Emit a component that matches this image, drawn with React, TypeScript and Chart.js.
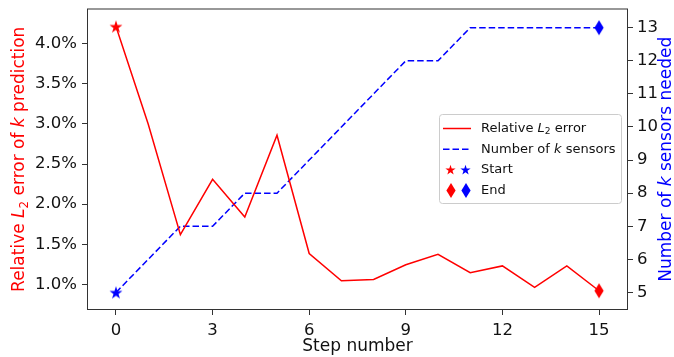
import { useEffect, useRef } from 'react';
import { Chart, registerables } from 'chart.js';

Chart.register(...registerables);

// Optimisation history: relative L2 error of the k field and sensors used per step
const steps = [0, 1, 2, 3, 4, 5, 6, 7, 8, 9, 10, 11, 12, 13, 14, 15];
const relErrorPct = [4.215, 3.0, 1.62, 2.31, 1.84, 2.86, 1.385, 1.045, 1.06, 1.245, 1.375, 1.145, 1.23, 0.963, 1.23, 0.92];
const sensorCount = [5, 6, 7, 7, 8, 8, 9, 10, 11, 12, 12, 13, 13, 13, 13, 13];

const stepTicks = [0, 3, 6, 9, 12, 15];
const errorTicks = [1.0, 1.5, 2.0, 2.5, 3.0, 3.5, 4.0];
const sensorTicks = [5, 6, 7, 8, 9, 10, 11, 12, 13];

const RED = '#ff0000';
const BLUE = '#0000ff';
const FAMILY = "'DejaVu Sans', sans-serif";
const TICK_SIZE = 16.5;
const TITLE_SIZE = 17;

type Seg = { t: string; italic?: boolean; sub?: boolean };

const errorTitle: Seg[] = [
  { t: 'Relative ' }, { t: 'L', italic: true }, { t: '2', sub: true },
  { t: ' error of ' }, { t: 'k', italic: true }, { t: ' prediction' },
];
const sensorTitle: Seg[] = [{ t: 'Number of ' }, { t: 'k', italic: true }, { t: ' sensors needed' }];
const stepTitle: Seg[] = [{ t: 'Step number' }];

const legendErr: Seg[] = [{ t: 'Relative ' }, { t: 'L', italic: true }, { t: '2', sub: true }, { t: ' error' }];
const legendCnt: Seg[] = [{ t: 'Number of ' }, { t: 'k', italic: true }, { t: ' sensors' }];

function segFont(s: Seg, size: number) {
  const sz = s.sub ? size * 0.7 : size;
  return `${s.italic ? 'italic ' : ''}${sz}px ${FAMILY}`;
}

function drawRich(ctx: CanvasRenderingContext2D, segs: Seg[], x: number, y: number, size: number, color: string, align: 'left' | 'center') {
  ctx.save();
  ctx.fillStyle = color;
  ctx.textBaseline = 'middle';
  ctx.textAlign = 'left';
  let total = 0;
  for (const s of segs) {
    ctx.font = segFont(s, size);
    total += ctx.measureText(s.t).width;
  }
  let cx = align === 'center' ? x - total / 2 : x;
  for (const s of segs) {
    ctx.font = segFont(s, size);
    ctx.fillText(s.t, cx, s.sub ? y + size * 0.28 : y);
    cx += ctx.measureText(s.t).width;
  }
  ctx.restore();
}

function makeStar(color: string, outer: number) {
  const c = document.createElement('canvas');
  const d = Math.ceil(outer * 2 + 2);
  c.width = d;
  c.height = d;
  const g = c.getContext('2d')!;
  const inner = outer * 0.382;
  g.beginPath();
  for (let i = 0; i < 10; i++) {
    const r = i % 2 === 0 ? outer : inner;
    const a = -Math.PI / 2 + (i * Math.PI) / 5;
    const px = d / 2 + r * Math.cos(a);
    const py = d / 2 + 0.6 + r * Math.sin(a);
    if (i === 0) g.moveTo(px, py);
    else g.lineTo(px, py);
  }
  g.closePath();
  g.fillStyle = color;
  g.fill();
  return c;
}

function makeDiamond(color: string, hw: number, hh: number) {
  const c = document.createElement('canvas');
  c.width = Math.ceil(hw * 2 + 2);
  c.height = Math.ceil(hh * 2 + 2);
  const g = c.getContext('2d')!;
  const cx = c.width / 2;
  const cy = c.height / 2;
  g.beginPath();
  g.moveTo(cx, cy - hh);
  g.lineTo(cx + hw, cy);
  g.lineTo(cx, cy + hh);
  g.lineTo(cx - hw, cy);
  g.closePath();
  g.fillStyle = color;
  g.fill();
  return c;
}

export default function App() {
  const ref = useRef<HTMLCanvasElement | null>(null);

  useEffect(() => {
    const canvas = ref.current;
    if (!canvas) return;

    const redStar = makeStar(RED, 6.8);
    const blueStar = makeStar(BLUE, 6.8);
    const redDiamond = makeDiamond(RED, 4.6, 7.4);
    const blueDiamond = makeDiamond(BLUE, 4.6, 7.4);
    const legStarR = makeStar(RED, 5.4);
    const legStarB = makeStar(BLUE, 5.4);

    const last = steps.length - 1;
    const endpointRadius = (ctx: any) => (ctx.dataIndex === 0 || ctx.dataIndex === last ? 7 : 0);

    const tickFont = { family: FAMILY, size: TICK_SIZE };
    const gridCommon = {
      drawOnChartArea: false,
      drawTicks: true,
      tickLength: 5,
      tickColor: '#333333',
      tickWidth: 1,
    };
    const noPadY = (s: any, w: number) => {
      s.width = w;
      s.paddingTop = 0;
      s.paddingBottom = 0;
    };

    const framePlugin = {
      id: 'frameAndText',
      afterDraw(chart: any) {
        const { ctx, chartArea } = chart;
        const { left, right, top, bottom } = chartArea;
        ctx.save();
        ctx.strokeStyle = '#333333';
        ctx.lineWidth = 1;
        ctx.strokeRect(left + 0.5, top + 0.5, right - left - 1, bottom - top - 1);
        ctx.restore();

        // axis titles
        drawRich(ctx, stepTitle, (left + right) / 2, 347, TITLE_SIZE, '#111111', 'center');
        ctx.save();
        ctx.translate(20, (top + bottom) / 2);
        ctx.rotate(-Math.PI / 2);
        drawRich(ctx, errorTitle, 0, 0, TITLE_SIZE, RED, 'center');
        ctx.restore();
        ctx.save();
        ctx.translate(667, (top + bottom) / 2);
        ctx.rotate(-Math.PI / 2);
        drawRich(ctx, sensorTitle, 0, 0, TITLE_SIZE, BLUE, 'center');
        ctx.restore();

        // legend
        const bx = 439.5, by = 114.5, bw = 182, bh = 89, rr = 3;
        ctx.save();
        ctx.beginPath();
        ctx.moveTo(bx + rr, by);
        ctx.lineTo(bx + bw - rr, by);
        ctx.quadraticCurveTo(bx + bw, by, bx + bw, by + rr);
        ctx.lineTo(bx + bw, by + bh - rr);
        ctx.quadraticCurveTo(bx + bw, by + bh, bx + bw - rr, by + bh);
        ctx.lineTo(bx + rr, by + bh);
        ctx.quadraticCurveTo(bx, by + bh, bx, by + bh - rr);
        ctx.lineTo(bx, by + rr);
        ctx.quadraticCurveTo(bx, by, bx + rr, by);
        ctx.closePath();
        ctx.fillStyle = 'rgba(255,255,255,0.8)';
        ctx.fill();
        ctx.strokeStyle = '#cccccc';
        ctx.lineWidth = 1;
        ctx.stroke();
        ctx.restore();

        const rows = [128.5, 149.3, 169.8, 190.2];
        const tx = 481;
        const lsize = 13;
        ctx.save();
        ctx.lineWidth = 1.5;
        ctx.strokeStyle = RED;
        ctx.beginPath();
        ctx.moveTo(443, rows[0]);
        ctx.lineTo(471, rows[0]);
        ctx.stroke();
        ctx.strokeStyle = BLUE;
        ctx.setLineDash([6.5, 3]);
        ctx.beginPath();
        ctx.moveTo(443, rows[1]);
        ctx.lineTo(471, rows[1]);
        ctx.stroke();
        ctx.restore();
        const place = (img: HTMLCanvasElement, x: number, y: number) =>
          ctx.drawImage(img, Math.round(x - img.width / 2), Math.round(y - img.height / 2));
        place(legStarR, 450, rows[2]);
        place(legStarB, 465, rows[2]);
        place(redDiamond, 450.5, rows[3]);
        place(blueDiamond, 465.5, rows[3]);

        drawRich(ctx, legendErr, tx, rows[0], lsize, '#111111', 'left');
        drawRich(ctx, legendCnt, tx, rows[1], lsize, '#111111', 'left');
        drawRich(ctx, [{ t: 'Start' }], tx, rows[2], lsize, '#111111', 'left');
        drawRich(ctx, [{ t: 'End' }], tx, rows[3], lsize, '#111111', 'left');
      },
    };

    const chart = new Chart(canvas, {
      type: 'line',
      data: {
        datasets: [
          {
            label: 'Relative L2 error',
            data: steps.map((s, i) => ({ x: s, y: relErrorPct[i] })),
            yAxisID: 'yErr',
            borderColor: RED,
            backgroundColor: RED,
            borderWidth: 1.5,
            fill: false,
            tension: 0,
            pointRadius: endpointRadius,
            pointHoverRadius: endpointRadius,
            pointStyle: (ctx: any) => (ctx.dataIndex === 0 ? redStar : redDiamond),
          },
          {
            label: 'Number of k sensors',
            data: steps.map((s, i) => ({ x: s, y: sensorCount[i] })),
            yAxisID: 'yCnt',
            borderColor: BLUE,
            backgroundColor: BLUE,
            borderWidth: 1.5,
            borderDash: [6.5, 3],
            fill: false,
            tension: 0,
            pointRadius: endpointRadius,
            pointHoverRadius: endpointRadius,
            pointStyle: (ctx: any) => (ctx.dataIndex === 0 ? blueStar : blueDiamond),
          },
        ],
      },
      options: {
        animation: false,
        responsive: false,
        devicePixelRatio: 1,
        layout: { padding: { top: 8, left: 0, right: 0, bottom: 0 } },
        plugins: { legend: { display: false }, tooltip: { enabled: false } },
        events: [],
        scales: {
          x: {
            type: 'linear',
            min: -0.9,
            max: 15.9,
            afterBuildTicks: (s: any) => {
              s.ticks = stepTicks.map((v) => ({ value: v }));
            },
            afterFit: (s: any) => {
              s.height = 47;
              s.paddingLeft = 0;
              s.paddingRight = 0;
            },
            grid: gridCommon,
            border: { display: false },
            ticks: { font: tickFont, color: '#111111', padding: 6, maxRotation: 0, autoSkip: false },
          },
          yErr: {
            type: 'linear',
            position: 'left',
            min: 0.68,
            max: 4.44,
            afterBuildTicks: (s: any) => {
              s.ticks = errorTicks.map((v) => ({ value: v }));
            },
            afterFit: (s: any) => noPadY(s, 87),
            grid: gridCommon,
            border: { display: false },
            ticks: {
              font: tickFont,
              color: '#111111',
              padding: 5,
              autoSkip: false,
              callback: (v: any) => `${Number(v).toFixed(1)}%`,
            },
          },
          yCnt: {
            type: 'linear',
            position: 'right',
            min: 4.47,
            max: 13.58,
            afterBuildTicks: (s: any) => {
              s.ticks = sensorTicks.map((v) => ({ value: v }));
            },
            afterFit: (s: any) => noPadY(s, 46),
            grid: gridCommon,
            border: { display: false },
            ticks: { font: tickFont, color: '#111111', padding: 4, autoSkip: false },
          },
        },
      },
      plugins: [framePlugin],
    } as any);

    return () => chart.destroy();
  }, []);

  return (
    <div style={{ position: 'fixed', left: 0, top: 0, width: 674, height: 357, background: '#ffffff' }}>
      <canvas ref={ref} width={674} height={357} style={{ display: 'block', width: 674, height: 357 }} />
    </div>
  );
}
